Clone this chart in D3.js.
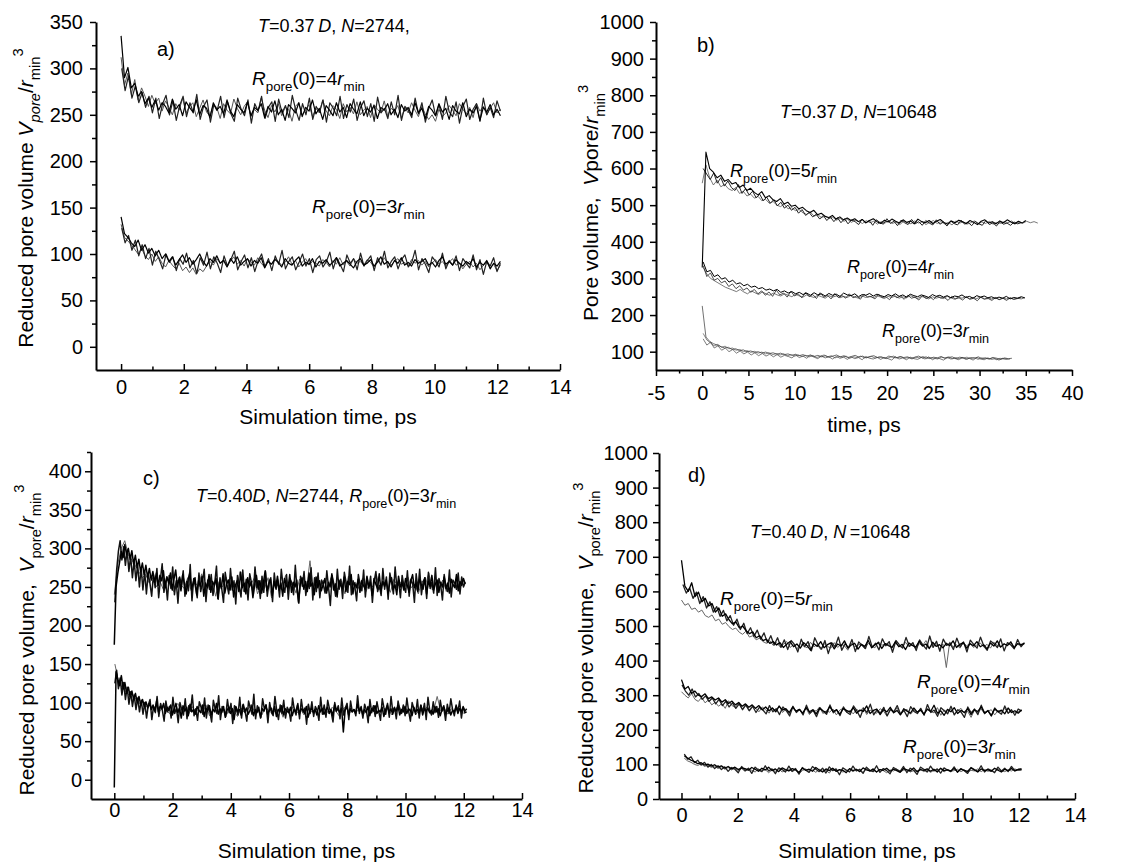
<!DOCTYPE html>
<html>
<head>
<meta charset="utf-8">
<script src="https://cdn.jsdelivr.net/npm/d3@7"></script>
<style>
body { margin:0; background:#fff; }
svg text { font-family: "Liberation Sans", Arial, sans-serif; fill:#000; }
</style>
</head>
<body>
<svg id="drawing_region" width="1142" height="863"></svg>
<script>
// ---- panel a) T=0.37D, N=2744, t = 0..12.1 ps
const a4rRun1 = [335,290,301,279,284,270,275,262,268,258,
266,255,263,259,252,267,256,261,249,264,258,253,266,250,260,257,247,263,255,259,
251,266,254,248,261,256,252,264,249,258,255,262,247,259,253,265,250,256,244,261,
257,252,263,248,258,254,266,251,257,245,260,255,249,263,253,258,247,262,256,251,
264,249,257,253,260,246,258,255,262,250,256,247,261,254,258,250,263,252,257,246,
259,255,249,262,253,257,245,260,254,251,263,248,256,252,259,244,258,253,261,250,256,249];
const a4rRun2 = [312,282,295,272,288,266,279,270,259,271,
262,268,254,265,258,250,262,255,268,252,259,263,248,257,266,253,249,261,258,246,
262,255,251,267,257,250,259,264,248,256,252,268,255,247,260,253,262,249,258,256,
243,259,263,250,255,261,248,257,252,266,254,249,260,256,246,262,253,258,251,264,
250,255,259,247,261,256,252,265,249,257,254,260,246,258,252,263,255,248,259,251,
245,250,243,256,248,252,260,255,249,262,256,251,258,247,262,254,259,250,257,263,252,256];
const a4rRun3 = [300,276,292,268,281,263,274,258,270,252,
268,246,262,271,250,265,244,260,270,248,263,252,272,245,259,266,242,261,255,270,
247,264,251,243,268,256,249,266,241,262,254,270,246,258,264,243,267,252,260,247,
271,255,244,262,250,268,245,259,253,266,242,263,257,249,270,246,261,253,267,244,
258,265,248,262,243,269,252,257,246,264,250,271,244,259,255,247,268,251,263,242,
257,266,249,261,245,270,253,248,264,241,259,267,245,256,262,243,268,250,258,247,265,254];
const a3rRun1 = [140,122,118,112,108,115,104,110,101,106,
98,104,95,100,92,97,88,94,99,91,96,89,94,100,92,87,95,91,98,90,
93,86,95,90,97,88,92,95,87,93,90,96,85,92,89,94,91,86,95,90,
88,93,97,87,91,89,95,86,92,90,94,88,91,96,87,90,93,89,85,92,
95,88,90,94,87,91,97,89,92,86,93,90,96,88,91,87,94,90,92,95,
88,91,86,93,97,89,92,88,94,90,87,92,89,95,86,91,88,93,84,90,87,92];
const a3rRun2 = [132,118,114,110,105,100,106,98,94,100,
92,97,90,86,93,88,84,90,82,86,80,85,78,84,81,87,92,88,95,90,
94,88,92,97,89,93,87,95,91,88,96,90,86,93,89,95,92,88,91,97,
89,93,86,91,95,88,92,90,87,94,91,86,93,89,96,88,92,87,95,90,
92,88,94,91,86,93,89,96,90,88,92,95,89,91,87,94,90,93,88,92,
86,90,94,89,92,87,91,95,88,90,84,89,92,86,90,83,88,91,85,89,82,88];
const a3rRun3 = [128,112,120,104,115,98,110,95,106,88,
103,94,84,100,91,97,82,95,89,101,85,93,79,96,88,102,84,97,90,80,
98,87,94,103,83,92,99,85,96,81,93,100,86,95,82,98,89,104,84,92,
97,83,91,100,87,95,80,94,98,86,92,102,84,96,89,81,99,90,95,83,
101,87,93,98,82,96,88,103,85,92,97,84,94,99,86,91,104,83,95,89,
80,97,92,86,101,84,93,88,98,82,95,90,85,99,83,94,78,92,87,96,81,90];

// ---- panel b) T=0.37D, N=10648, t = 0..36 ps
const b5rRun1 = [330,645,600,590,575,582,565,570,558,562,
548,555,540,546,535,528,537,520,526,515,510,518,503,508,497,500,490,494,485,480,
486,474,478,470,466,472,462,468,460,465,458,463,455,461,452,458,463,455,450,459,
454,462,456,451,460,453,457,449,462,455,452,458,450,456,461,453,448,457,452,459,
455,450,458,453,447,456,460,451,455,449,457,452,460,454,449,456,451,458];
const b5rRun2 = [560,610,575,555,568,550,557,545,540,548,
532,538,525,530,519,524,512,516,505,510,500,496,503,490,493,485,488,479,475,481,
470,474,466,470,463,467,459,464,456,461,453,459,455,450,458,452,456,448,455,451,
458,450,454,447,456,452,449,457,451,455,447,453,458,450,455,449,453,446,457,451,
454,448,452,457,449,454,450,456,448,453,450,455,452,457,449,454,451,456,452,455,451];
const b5rRun3 = [600,585,570,588,560,575,552,566,548,540,
556,532,545,528,538,520,530,512,522,505,515,498,508,492,500,486,494,478,488,472,
480,468,475,462,472,458,468,455,466,452,463,449,460,455,447,462,451,458,445,460,
453,448,463,450,456,444,459,452,447,461,449,455,445,458,451,446,460,448,454,443,
457,450,446,459,448,453,444,456,449,445,458,447,452,443,455,448,451,445,454,449,452];
const b4rRun1 = [345,318,322,305,310,298,302,290,295,285,
288,280,284,276,279,272,275,268,271,266,270,262,266,260,264,258,262,256,260,254,
261,255,258,252,259,254,257,251,260,255,253,258,250,256,254,259,252,257,253,250,
256,252,258,251,255,249,257,253,250,255,252,248,256,251,254,249,253,247,252,250,
255,248,251,246,253,249,252,247,250,245,249,246,251,244,248,246,250,247];
const b4rRun2 = [330,312,300,294,288,282,276,272,268,264,
270,263,258,266,261,256,263,258,254,260,255,252,258,254,250,257,252,249,255,251,
248,254,250,246,253,249,252,247,251,248,254,249,246,252,248,251,247,253,249,245,
251,248,252,246,250,247,253,249,245,251,248,244,250,246,249,245,251,247,243,249,
246,250,244,248,245,249,243,247,244,248,242,246,244,247,243,246,244,247];
const b4rRun3 = [335,305,315,295,300,288,293,278,285,272,
280,268,274,262,270,258,266,254,263,251,268,255,260,249,265,252,258,247,262,250,
256,245,261,249,254,244,259,248,253,246,258,247,252,243,257,249,251,244,256,248,
250,242,255,247,252,243,254,246,249,241,253,245,250,242,252,246,248,240,251,244,
247,241,250,243,246,239,249,244,245,240,248,242,246,240,247,243,245,248];
const b3rRun1 = [225,140,128,122,118,114,110,112,106,108,
103,105,100,102,98,100,96,99,95,97,93,96,92,94,90,93,89,92,88,91,
87,90,86,89,85,88,91,86,89,84,87,90,85,88,83,87,89,84,86,82,
88,85,83,87,84,86,82,85,88,83,86,81,85,83,87,82,84,86,81,85,
83,80,84,82,86,81,83,80,84,82,79,83,81,82];
const b3rRun2 = [150,132,124,116,120,112,115,108,110,104,
106,100,103,98,101,96,99,94,97,92,95,91,94,89,92,88,91,87,90,86,
89,84,88,91,86,89,83,87,85,88,82,86,84,88,83,85,87,82,86,84,
81,85,88,83,86,82,84,80,85,83,87,81,84,82,80,85,83,86,81,84,
80,83,85,81,84,79,83,82,80,84,78,82,80,81];
const b3rRun3 = [135,118,126,110,116,104,110,100,106,96,
102,94,99,91,97,89,95,88,93,86,92,85,90,87,83,91,84,88,82,90,
85,81,88,83,86,80,87,82,85,79,86,81,84,78,87,82,80,85,79,84,
81,77,86,80,83,78,85,81,79,84,80,86,78,83,81,77,84,80,82,78,
85,79,82,77,84,80,78,83,79,81,77,82,79,80];

// ---- panel c) T=0.40D, N=2744, t = 0..12 ps
const cUpperRun1 = [175,250,268,282,296,288,305,292,300,286,
297,280,291,275,286,270,281,266,278,262,274,259,270,256,268,252,265,258,271,249,
263,255,268,246,260,272,250,262,245,266,254,241,259,268,247,256,262,240,258,251,
264,238,255,249,266,243,257,252,261,235,256,248,267,242,254,259,246,263,237,252,
258,244,269,249,255,241,262,250,257,236,253,265,247,258,242,256,271,245,253,260,
239,257,249,264,246,255,238,261,252,248,266,243,256,250,259,230,254,262,247,257,
244,268,251,255,240,263,249,258,245,253,261,242,256,250,267,246,254,237,259,252,
248,263,244,257,253,266,241,255,249,260,243,258,252,247,264,250,256,239,261,254,
248,267,245,257,251,259,242,255,262,247,253,240,264,250,256,246,261,252,243,258,
266,249,255,244,260,253,247,262,241,257,251,265,246,254,259,243,256,250,263,248,
255,242,260,253,249,266,245,257,252,261,254];
const cUpperRun2 = [240,280,300,310,292,285,278,270,262,266,
255,262,250,258,247,264,252,244,259,253,248,262,245,256,251,267,243,254,258,238,
257,250,263,246,255,249,270,244,256,252,261,241,254,248,262,236,257,251,246,265,
249,255,242,260,253,248,284,243,255,250,259,245,262,251,247,258,241,264,252,256,
248,261,244,255,250,266,246,257,253,243,260,251,256,247,263,249,254,241,258,252,
268,246,255,250,259,244,262,253,249,257,252];
const cUpperRun3 = [230,272,296,310,285,302,278,298,270,290,
262,284,258,279,250,275,246,270,241,268,255,238,266,249,274,236,260,280,243,257,
233,265,248,276,240,258,229,263,252,271,238,257,245,279,232,261,250,236,268,244,
256,273,231,259,247,266,239,255,277,234,262,248,230,269,253,241,274,246,258,228,
265,251,237,272,244,260,233,267,255,240,276,249,258,235,264,243,270,238,256,262,
231,268,247,259,237,273,252,243,266,234,261,255,240,278,246,229,264,251,270,239,
257,248,275,233,262,244,268,236,259,253,242,271,249,226,265,254,238,273,247,260,
235,269,256,243,277,240,258,250,232,266,253,245,272,237,261,248,264,230,257,270,
244,252,239,274,247,263,234,268,255,241,276,249,258,236,265,251,243,271,238,260,
254,230,267,246,273,240,257,262,235,269,248,256,242,275,239,261,252,233,266,250,
244,272,237,259,255,247,268,241,263,250,256];
const cLowerRun1 = [-10,140,130,122,135,118,126,112,120,108,
115,104,112,100,108,97,104,95,101,93,99,91,97,89,102,88,95,92,99,86,
94,90,97,84,92,99,87,93,80,96,89,94,83,98,88,91,85,95,90,87,
97,82,93,89,96,84,91,88,99,85,92,87,95,81,90,94,86,92,78,95,
89,91,84,97,88,93,85,90,96,83,91,87,94,80,92,89,97,85,90,93,
86,95,82,91,88,96,84,92,89,87,94,83,91,88,97,85,92,90,86,95,
81,89,93,87,91,84,96,88,92,85,90,94,86,91,83,97,89,92,87,93,
62,90,95,84,92,88,91,86,98,89,93,85,91,87,95,83,92,89,96,86,
90,88,94,82,91,97,87,92,85,93,89,96,84,91,88,95,86,92,90,83,
94,88,91,86,97,84,92,89,93,87,90,85,95,88,92,83,91,96,86,89,
93,84,90,88,95,86,92,89,94,87,88];
const cLowerRun2 = [150,128,120,115,110,103,106,99,102,95,
98,92,96,90,94,88,85,93,99,87,92,84,95,89,91,86,97,83,90,94,
88,92,85,96,89,82,93,87,91,98,86,90,84,95,88,92,86,93,81,90,
89,95,87,91,84,96,88,90,85,93,92,86,94,89,83,91,95,87,90,88,
94,85,92,89,96,86,91,88,93,84,90,97,87,92,89,95,85,91,88,94,
86,90,108,89,93,85,92,88,94,87,86];
const cLowerRun3 = [125,142,118,132,110,126,104,120,98,114,
95,110,91,106,88,103,85,100,80,97,104,78,95,87,108,82,99,90,76,102,
88,95,80,107,86,93,74,100,91,84,105,79,96,89,110,83,92,77,101,94,
85,106,80,97,88,75,103,92,86,109,78,95,90,82,104,87,99,73,96,91,
84,107,80,98,89,76,102,93,85,111,79,96,88,81,105,92,97,74,100,87,
83,108,90,78,97,86,103,80,94,89,76,106,91,84,99,79,104,88,93,72,
98,86,101,82,95,90,77,107,85,97,81,103,92,87,75,100,89,96,79,106,
84,93,99,78,102,88,91,83,109,86,95,80,98,90,74,104,87,96,82,101,
89,77,105,93,85,99,81,108,88,94,79,102,91,86,97,83,106,89,76,100,
92,85,104,80,96,88,99,78,107,90,84,101,87,95,81,103,89,93,77,98,
86,105,91,83,97,88,102,80,95,89,92];

// ---- panel d) T=0.40D, N=10648, t = 0..12.2 ps
const d5rRun1 = [690,615,600,625,585,598,570,580,558,565,
540,552,528,535,518,506,512,495,500,487,478,483,466,472,458,462,450,455,445,452,
438,447,455,440,448,436,452,443,430,449,441,455,437,446,451,434,448,442,457,436,
445,450,433,447,441,458,437,446,452,435,449,443,438,455,440,447,432,451,444,439,
456,442,448,435,453,441,446,437,450,443,457,438,447,452,436,449,443,455,440,446,
434,451,442,457,439,448,444,453,437,449,446,450];
const d5rRun2 = [575,560,565,548,552,540,546,530,525,532,
515,520,505,510,498,490,494,482,476,485,468,472,460,465,455,450,458,444,452,440,
447,455,438,446,433,450,442,437,453,440,446,432,449,441,436,452,438,447,443,430,
451,439,445,448,434,450,441,437,455,444,449,447,436,451,442,438,453,440,446,435,
449,443,458,437,445,450,434,448,380,454,439,446,436,452,443,449,438,445,451,440,
447,436,453,444,439,450,442,456,438,447,443,448];
const d5rRun3 = [620,595,610,580,598,565,585,552,570,540,
556,528,545,515,530,502,520,490,508,478,495,470,488,462,480,452,472,445,466,438,
460,432,458,447,425,462,440,455,428,466,445,433,458,420,452,440,468,430,449,437,
461,426,454,444,435,470,439,450,431,463,443,455,424,458,446,436,467,441,452,429,
460,445,433,471,438,456,427,462,444,450,432,465,440,454,425,459,447,436,468,442,
430,457,449,438,463,428,452,445,434,461,440,452];
const d4rRun1 = [345,318,325,305,312,300,296,304,290,295,
286,292,280,287,276,283,272,279,268,275,265,272,262,270,258,266,255,263,252,268,
257,261,250,266,254,259,248,264,252,258,246,262,255,250,267,253,258,245,261,256,
251,264,248,257,253,269,247,256,260,244,258,252,265,249,256,243,261,254,248,263,
251,257,245,260,253,271,248,255,242,259,252,264,247,256,250,261,244,258,253,266,
249,255,241,260,252,257,246,263,250,255,248,258];
const d4rRun2 = [310,300,292,305,288,282,294,278,286,272,
280,268,276,262,284,270,265,278,260,272,256,268,262,252,266,258,248,263,255,270,
250,259,246,264,253,257,249,262,244,258,254,266,247,255,251,260,243,257,262,250,
256,246,259,253,265,244,257,252,248,261,254,240,258,250,263,247,255,259,245,256,
251,262,246,258,253,249,264,242,257,251,259,244,255,262,248,253,236,257,250,260,
246,254,258,243,256,251,262,247,255,250,253,256];
const d4rRun3 = [330,312,300,318,295,305,288,298,282,292,
275,288,270,282,266,278,262,275,258,272,255,268,250,265,258,246,270,252,261,244,
266,255,240,268,250,259,243,271,248,256,238,264,253,245,272,249,258,241,266,251,
244,269,255,236,262,250,274,243,257,248,265,240,259,252,270,245,256,238,267,253,
247,262,242,273,250,257,239,264,255,246,268,243,258,251,236,266,249,260,244,271,
247,256,240,263,252,245,269,248,258,242,260,254];
const d3rRun1 = [125,118,112,108,102,105,98,101,95,99,
92,96,89,94,87,92,85,90,88,83,91,86,80,89,84,92,82,87,79,90,
85,81,88,84,77,89,83,86,80,91,84,78,87,82,89,80,85,83,76,88,
82,86,79,90,84,81,87,78,85,83,89,80,86,82,77,88,84,81,90,79,
85,83,87,80,86,78,89,82,84,81,88,79,86,83,80,90,84,78,87,82,
85,80,89,83,78,86,82,88,81,85,84];
const d3rRun2 = [118,110,106,100,97,102,94,98,91,95,
88,93,86,91,84,89,82,88,80,86,83,78,87,81,85,76,84,80,88,78,
83,86,79,85,73,82,87,80,84,77,86,81,83,75,88,80,84,78,82,86,
79,85,81,77,87,80,83,78,86,82,76,84,81,87,79,83,85,78,82,80,
86,79,84,77,83,81,88,78,85,80,82,86,79,84,77,83,81,87,79,85,
80,83,78,86,82,79,84,81,87,83,85];
const d3rRun3 = [130,115,122,105,112,98,106,92,100,88,
96,85,93,80,91,86,76,94,82,89,74,92,84,79,96,81,87,73,90,85,
78,95,80,88,72,91,83,77,94,86,79,89,75,93,82,87,70,90,84,78,
95,81,86,74,92,83,79,96,77,88,82,73,91,85,80,94,76,89,83,71,
92,86,78,95,81,87,75,90,84,79,93,77,88,82,74,91,85,80,96,78,
87,83,76,92,81,89,79,94,82,86,88];

// tick values
const xTicks12 = [0, 2, 4, 6, 8, 10, 12, 14];
const xMinor12 = [1, 3, 5, 7, 9, 11, 13];
const xTicksB = [-5, 0, 5, 10, 15, 20, 25, 30, 35, 40];
const xMinorB = [-2.5, 2.5, 7.5, 12.5, 17.5, 22.5, 27.5, 32.5, 37.5];
const yTicksA = [0, 50, 100, 150, 200, 250, 300, 350];
const yMinorA = [25, 75, 125, 175, 225, 275, 325];
const yTicksB = [100, 200, 300, 400, 500, 600, 700, 800, 900, 1000];
const yMinorB = [150, 250, 350, 450, 550, 650, 750, 850, 950];
const yTicksC = [0, 50, 100, 150, 200, 250, 300, 350, 400];
const yMinorC = [25, 75, 125, 175, 225, 275, 325, 375, 425];
const yTicksD = [0, 100, 200, 300, 400, 500, 600, 700, 800, 900, 1000];
const yMinorD = [50, 150, 250, 350, 450, 550, 650, 750, 850, 950];

const svg = d3.select('#drawing_region');

function richText(g, x, y, parts, size, rotate) {
    const txt = g.append('text')
        .attr('x', x).attr('y', y)
        .attr('font-size', size);
    if (rotate) {
        txt.attr('transform', `rotate(-90,${x},${y})`)
            .attr('text-anchor', 'middle');
    }
    let shift = 0;
    parts.forEach(([s, st]) => {
        const isSub = st.indexOf('sub') >= 0;
        const isSup = st.indexOf('sup') >= 0;
        const want = isSub ? size * 0.32 : isSup ? -size * 0.5 : 0;
        txt.append('tspan')
            .attr('dy', want - shift)
            .attr('font-size', (isSub || isSup) ? size * 0.7 : size)
            .attr('font-style', st.indexOf('i') === 0 ? 'italic' : null)
            .text(s);
        shift = want;
    });
    return txt;
}

const R = (n) => [["R","i"],["pore","sub"],["(0)="+n,"n"],["r","i"],["min","sub"]];

class TracePlot {

    constructor( config, series ) {
        this.config = config;
        this.series = series;
        this.init();
    }

    init() {
        let self = this;
        self.chart = svg.append('g');

        self.xscale = d3.scaleLinear()
            .domain( self.config.xdomain )
            .range( [self.config.left, self.config.right] );

        self.yscale = d3.scaleLinear()
            .domain( self.config.ydomain )
            .range( [self.config.bottom, self.config.top] );
    }

    render() {
        let self = this;
        const c = self.config;

        const line = d3.line()
            .x( d => self.xscale( d.t ) )
            .y( d => self.yscale( d.v ) );

        self.series.forEach( s => {
            const n = s.values.length;
            const pts = s.values.map( (v, i) => ({ t: s.t0 + (s.t1 - s.t0) * i / (n - 1), v: v }) );
            self.chart.append('path')
                .datum(pts)
                .attr('d', line)
                .attr('fill', 'none')
                .attr('stroke', s.color)
                .attr('stroke-width', s.width || 1.2)
                .attr('stroke-linejoin', 'round');
        });

        // x axis
        const xdir = c.xIn ? -1 : 1;
        const xaxis = d3.axisBottom( self.xscale )
            .tickValues( c.xticks )
            .tickSizeInner( 6 * xdir )
            .tickSizeOuter( 0 )
            .tickPadding( c.xpad )
            .tickFormat( d => String(d) );
        const xg = self.chart.append('g')
            .attr('transform', `translate(0, ${c.bottom})`)
            .call( xaxis );
        const xminor = d3.axisBottom( self.xscale )
            .tickValues( c.xminor )
            .tickSize( 3.5 * xdir )
            .tickFormat('');
        const xmg = self.chart.append('g')
            .attr('transform', `translate(0, ${c.bottom})`)
            .call( xminor );
        xmg.select('.domain').remove();

        // y axis
        const yaxis = d3.axisLeft( self.yscale )
            .tickValues( c.yticks )
            .tickSizeInner( 6 )
            .tickSizeOuter( 0 )
            .tickPadding( c.ypad )
            .tickFormat( d => String(d) );
        const yg = self.chart.append('g')
            .attr('transform', `translate(${c.left}, 0)`)
            .call( yaxis );
        const yminor = d3.axisLeft( self.yscale )
            .tickValues( c.yminor )
            .tickSize( 4 )
            .tickFormat('');
        const ymg = self.chart.append('g')
            .attr('transform', `translate(${c.left}, 0)`)
            .call( yminor );
        ymg.select('.domain').remove();

        [xg, yg].forEach( g => {
            g.select('.domain').attr('stroke-width', 2);
            g.selectAll('.tick text')
                .attr('font-size', 20)
                .attr('font-family', '"Liberation Sans", Arial, sans-serif')
                .attr('fill', '#000');
        });
        self.chart.selectAll('.tick line').attr('stroke-width', 1.5);

        // titles
        self.chart.append('text')
            .attr('x', (c.left + c.right) / 2)
            .attr('y', c.xtitleY)
            .attr('text-anchor', 'middle')
            .attr('font-size', 21)
            .text( c.xtitle );
        richText( self.chart, c.ytitleX, c.ytitleY, c.ytitle, 21, true );

        c.notes.forEach( n => richText( self.chart, n.x, n.y, n.parts, n.size ) );
    }
}

const panelA = new TracePlot({
    left: 96, right: 560, top: 22, bottom: 370,
    xdomain: [-0.8, 14], ydomain: [-25, 350],
    xticks: xTicks12, xminor: xMinor12, yticks: yTicksA, yminor: yMinorA,
    xIn: true, xpad: 10, ypad: 7,
    xtitle: 'Simulation time, ps', xtitleY: 424,
    ytitleX: 33, ytitleY: 198,
    ytitle: [["Reduced pore volume ","n"],["V","i"],["pore","isub"],["/","n"],["r","i"],["min","sub"],["3","sup"]],
    notes: [
        { x: 157, y: 56, size: 20, parts: [["a)","n"]] },
        { x: 258, y: 32, size: 18, parts: [["T","i"],["=0.37\u2009","n"],["D","i"],[", ","n"],["N","i"],["=2744,","n"]] },
        { x: 252, y: 85, size: 19, parts: R(4) },
        { x: 312, y: 213, size: 19, parts: R(3) }
    ]
}, [
    { values: a4rRun2, t0: 0, t1: 12.1, color: '#555', width: 1 },
    { values: a4rRun3, t0: 0.02, t1: 12.1, color: '#222' },
    { values: a4rRun1, t0: 0, t1: 12.1, color: '#000' },
    { values: a3rRun2, t0: 0, t1: 12.1, color: '#555', width: 1 },
    { values: a3rRun3, t0: 0.02, t1: 12.1, color: '#222' },
    { values: a3rRun1, t0: 0, t1: 12.1, color: '#000' }
]);
panelA.render();

const panelB = new TracePlot({
    left: 656, right: 1072, top: 22, bottom: 370,
    xdomain: [-5, 40], ydomain: [50, 1000],
    xticks: xTicksB, xminor: xMinorB, yticks: yTicksB, yminor: yMinorB,
    xIn: false, xpad: 10, ypad: 6,
    xtitle: 'time, ps', xtitleY: 432,
    ytitleX: 598, ytitleY: 203,
    ytitle: [["Pore volume,\u00a0\u00a0","n"],["V","i"],["pore/","n"],["r","i"],["min","sub"],["3","sup"]],
    notes: [
        { x: 697, y: 52, size: 20, parts: [["b)","n"]] },
        { x: 780, y: 118, size: 18, parts: [["T","i"],["=0.37\u2009","n"],["D","i"],[", ","n"],["N","i"],["=10648","n"]] },
        { x: 730, y: 177, size: 18, parts: R(5) },
        { x: 847, y: 273, size: 18, parts: R(4) },
        { x: 882, y: 337, size: 18, parts: R(3) }
    ]
}, [
    { values: b5rRun2, t0: 0, t1: 36.3, color: '#555', width: 0.8 },
    { values: b5rRun3, t0: 0.1, t1: 34.5, color: '#222', width: 1 },
    { values: b5rRun1, t0: 0, t1: 35, color: '#000', width: 1.1 },
    { values: b4rRun2, t0: 0.1, t1: 34.9, color: '#555', width: 0.8 },
    { values: b4rRun3, t0: 0.1, t1: 34.5, color: '#222', width: 0.8 },
    { values: b4rRun1, t0: 0.1, t1: 34.9, color: '#000', width: 1 },
    { values: b3rRun2, t0: 0.1, t1: 33, color: '#555', width: 0.7 },
    { values: b3rRun3, t0: 0.1, t1: 33.3, color: '#444', width: 0.7 },
    { values: b3rRun1, t0: 0, t1: 33.5, color: '#333', width: 0.7 }
]);
panelB.render();

const panelC = new TracePlot({
    left: 91, right: 522, top: 452, bottom: 799,
    xdomain: [-0.8, 14], ydomain: [-25, 425],
    xticks: xTicks12, xminor: xMinor12, yticks: yTicksC, yminor: yMinorC,
    xIn: true, xpad: 4, ypad: 3,
    xtitle: 'Simulation time, ps', xtitleY: 858,
    ytitleX: 34, ytitleY: 640,
    ytitle: [["Reduced pore volume,\u00a0\u00a0","n"],["V","i"],["pore","sub"],["/","n"],["r","i"],["min","sub"],["3","sup"]],
    notes: [
        { x: 143, y: 485, size: 20, parts: [["c)","n"]] },
        { x: 196, y: 502, size: 18, parts: [["T","i"],["=0.40","n"],["D","i"],[", ","n"],["N","i"],["=2744, ","n"]].concat(R(3)) }
    ]
}, [
    { values: cUpperRun2, t0: 0, t1: 12.0, color: '#666', width: 1 },
    { values: cUpperRun3, t0: 0.02, t1: 12.05, color: '#111', width: 1.5 },
    { values: cUpperRun1, t0: 0, t1: 12.05, color: '#000', width: 1.5 },
    { values: cLowerRun2, t0: 0.02, t1: 12.05, color: '#666', width: 1 },
    { values: cLowerRun3, t0: 0.02, t1: 12.1, color: '#111', width: 1.5 },
    { values: cLowerRun1, t0: 0, t1: 12.1, color: '#000', width: 1.5 }
]);
panelC.render();

const panelD = new TracePlot({
    left: 659, right: 1075, top: 453, bottom: 799,
    xdomain: [-0.8, 14], ydomain: [0, 1000],
    xticks: xTicks12, xminor: xMinor12, yticks: yTicksD, yminor: yMinorD,
    xIn: true, xpad: 9, ypad: 5,
    xtitle: 'Simulation time, ps', xtitleY: 858,
    ytitleX: 593, ytitleY: 638,
    ytitle: [["Reduced pore volume,\u00a0\u00a0","n"],["V","i"],["pore","sub"],["/","n"],["r","i"],["min","sub"],["3","sup"]],
    notes: [
        { x: 688, y: 482, size: 20, parts: [["d)","n"]] },
        { x: 750, y: 538, size: 18, parts: [["T","i"],["=0.40\u2009","n"],["D","i"],[", ","n"],["N","i"],["\u2009=10648","n"]] },
        { x: 720, y: 605, size: 19, parts: R(5) },
        { x: 917, y: 688, size: 19, parts: R(4) },
        { x: 903, y: 753, size: 19, parts: R(3) }
    ]
}, [
    { values: d5rRun2, t0: 0, t1: 12.2, color: '#666', width: 1 },
    { values: d5rRun3, t0: 0.05, t1: 12.2, color: '#222', width: 1.3 },
    { values: d5rRun1, t0: 0, t1: 12.2, color: '#000', width: 1.3 },
    { values: d4rRun2, t0: 0, t1: 12.1, color: '#666', width: 1 },
    { values: d4rRun3, t0: 0.02, t1: 12.1, color: '#222', width: 1.3 },
    { values: d4rRun1, t0: 0, t1: 12.1, color: '#000', width: 1.3 },
    { values: d3rRun2, t0: 0.1, t1: 12.1, color: '#666', width: 1 },
    { values: d3rRun3, t0: 0.1, t1: 12.1, color: '#222', width: 1.3 },
    { values: d3rRun1, t0: 0.1, t1: 12.1, color: '#000', width: 1.3 }
]);
panelD.render();
</script>
</body>
</html>
